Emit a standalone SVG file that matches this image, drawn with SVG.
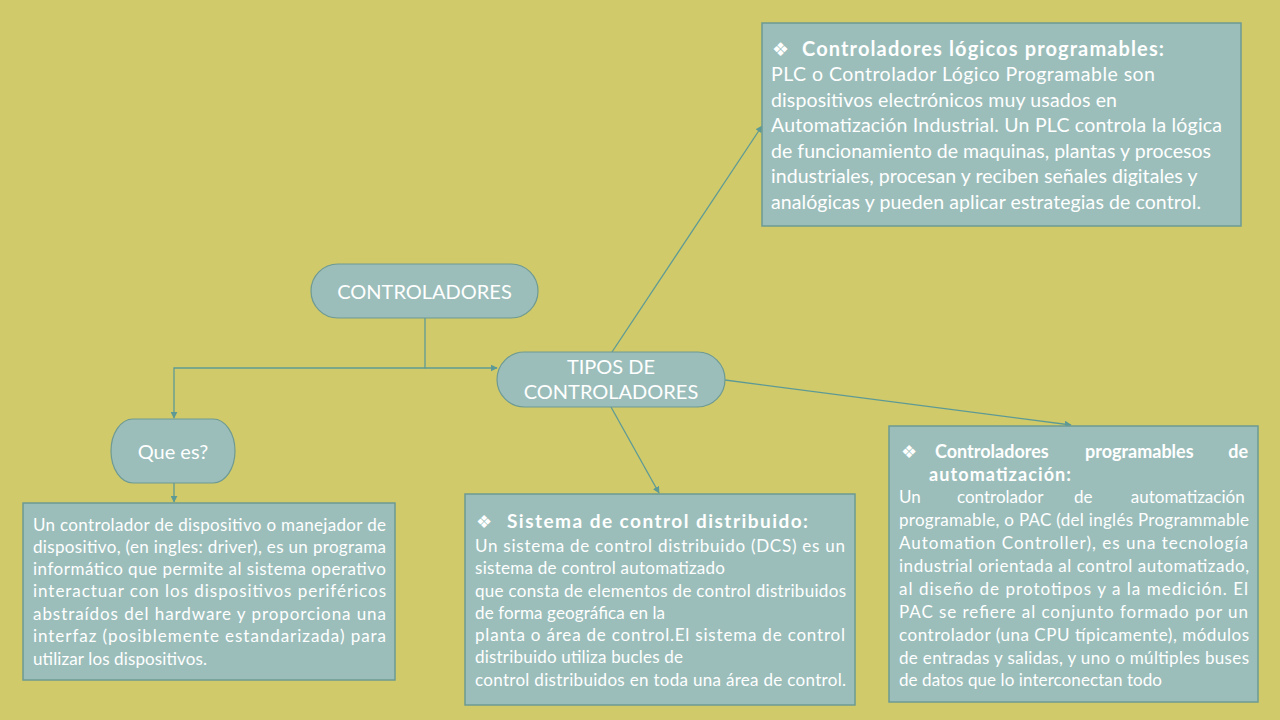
<svg xmlns="http://www.w3.org/2000/svg" width="1280" height="720" viewBox="0 0 1280 720">
<style>
.box{fill:#9BBEBB;stroke:#6E9A93;stroke-width:1.5}
.pill{fill:#9BBEBB;stroke:#6E9A93;stroke-width:1.2}
.t{font-family:Lato,"Open Sans","Liberation Sans",sans-serif;fill:#FFFFFF}
.b{font-weight:bold}
.bul{font-family:"DejaVu Sans",sans-serif;fill:#FFFFFF}
.c{fill:none;stroke:#5E9A95;stroke-width:1.3}
</style>
<defs>
<marker id="arr" viewBox="0 0 10 10" refX="9" refY="5" markerWidth="7" markerHeight="7" markerUnits="userSpaceOnUse" orient="auto">
<path d="M0,0 L10,5 L0,10 z" fill="#5E9A95"/>
</marker>
</defs>
<rect width="1280" height="720" fill="#D0CA6A"/>

<g id="connectors">
<path class="c" d="M425,318 V368 H174 V418" marker-end="url(#arr)"/>
<path class="c" d="M425,368 H497" marker-end="url(#arr)"/>
<path class="c" d="M174,483 V502" marker-end="url(#arr)"/>
<path class="c" d="M612,352 L762,126" marker-end="url(#arr)"/>
<path class="c" d="M611,407 L659,493" marker-end="url(#arr)"/>
<path class="c" d="M725,380 L1071,425" marker-end="url(#arr)"/>
</g>

<g id="controladores">
<rect class="pill" x="311" y="264" width="227" height="54" rx="27" ry="27"/>
<text class="t" x="424.5" y="299" font-size="20" text-anchor="middle">CONTROLADORES</text>
</g>

<g id="tipos">
<rect class="pill" x="497" y="352" width="228" height="55" rx="27.5" ry="27.5"/>
<text class="t" x="611" y="374" font-size="20" text-anchor="middle">TIPOS DE</text>
<text class="t" x="611" y="399" font-size="20" text-anchor="middle">CONTROLADORES</text>
</g>

<g id="quees">
<rect class="pill" x="111" y="419" width="124" height="64" rx="22" ry="32"/>
<text class="t" x="173" y="459" font-size="20" text-anchor="middle">Que es?</text>
</g>

<g id="driver">
<rect class="box" x="23" y="503" width="372" height="177"/>
<text class="t" font-size="17">
<tspan x="33" y="531" textLength="353" lengthAdjust="spacing">Un controlador de dispositivo o manejador de</tspan>
<tspan x="33" y="553" textLength="353" lengthAdjust="spacing">dispositivo, (en ingles: driver), es un programa</tspan>
<tspan x="33" y="575" textLength="353" lengthAdjust="spacing">informático que permite al sistema operativo</tspan>
<tspan x="33" y="597" textLength="353" lengthAdjust="spacing">interactuar con los dispositivos periféricos</tspan>
<tspan x="33" y="620" textLength="353" lengthAdjust="spacing">abstraídos del hardware y proporciona una</tspan>
<tspan x="33" y="642" textLength="353" lengthAdjust="spacing">interfaz (posiblemente estandarizada) para</tspan>
<tspan x="33" y="665" textLength="174" lengthAdjust="spacing">utilizar los dispositivos.</tspan>
</text>
</g>

<g id="plc">
<rect class="box" x="762" y="23" width="479" height="203"/>
<text class="bul" x="772" y="56" font-size="19">❖</text>
<text class="t b" x="802" y="56" font-size="20" textLength="362" lengthAdjust="spacing">Controladores lógicos programables:</text>
<text class="t" font-size="19.5">
<tspan x="771" y="81" textLength="384" lengthAdjust="spacing">PLC o Controlador Lógico Programable son</tspan>
<tspan x="771" y="107" textLength="346" lengthAdjust="spacing">dispositivos electrónicos muy usados en</tspan>
<tspan x="771" y="132" textLength="451" lengthAdjust="spacing">Automatización Industrial. Un PLC controla la lógica</tspan>
<tspan x="771" y="158" textLength="440" lengthAdjust="spacing">de funcionamiento de maquinas, plantas y procesos</tspan>
<tspan x="771" y="183" textLength="426" lengthAdjust="spacing">industriales, procesan y reciben señales digitales y</tspan>
<tspan x="771" y="209" textLength="430" lengthAdjust="spacing">analógicas y pueden aplicar estrategias de control.</tspan>
</text>
</g>

<g id="dcs">
<rect class="box" x="465" y="494" width="390" height="211"/>
<text class="bul" x="476" y="528" font-size="18">❖</text>
<text class="t b" x="507" y="528" font-size="19" textLength="301" lengthAdjust="spacing">Sistema de control distribuido:</text>
<text class="t" font-size="17">
<tspan x="475" y="552" textLength="370" lengthAdjust="spacing">Un sistema de control distribuido (DCS) es un</tspan>
<tspan x="475" y="574" textLength="250" lengthAdjust="spacing">sistema de control automatizado</tspan>
<tspan x="475" y="597" textLength="371" lengthAdjust="spacing">que consta de elementos de control distribuidos</tspan>
<tspan x="475" y="619" textLength="190" lengthAdjust="spacing">de forma geográfica en la</tspan>
<tspan x="475" y="641" textLength="370" lengthAdjust="spacing">planta o área de control.El sistema de control</tspan>
<tspan x="475" y="663" textLength="208" lengthAdjust="spacing">distribuido utiliza bucles de</tspan>
<tspan x="475" y="686" textLength="371" lengthAdjust="spacing">control distribuidos en toda una área de control.</tspan>
</text>
</g>

<g id="pac">
<rect class="box" x="889" y="426" width="369" height="276"/>
<text class="bul" x="901" y="458" font-size="18">❖</text>
<text class="t b" x="935" y="458" font-size="18">Controladores</text>
<text class="t b" x="1085" y="458" font-size="18">programables</text>
<text class="t b" x="1248" y="458" font-size="18" text-anchor="end">de</text>
<text class="t b" x="929" y="481" font-size="18" textLength="142" lengthAdjust="spacing">automatización:</text>
<text class="t" font-size="17">
<tspan x="899" y="503">Un</tspan>
<tspan x="957" y="503">controlador</tspan>
<tspan x="1074" y="503">de</tspan>
<tspan x="1249" y="503" text-anchor="end">automatización</tspan>
<tspan x="899" y="526" textLength="350" lengthAdjust="spacing">programable, o PAC (del inglés Programmable</tspan>
<tspan x="899" y="549" textLength="349" lengthAdjust="spacing">Automation Controller), es una tecnología</tspan>
<tspan x="899" y="572" textLength="350" lengthAdjust="spacing">industrial orientada al control automatizado,</tspan>
<tspan x="899" y="595" textLength="349" lengthAdjust="spacing">al diseño de prototipos y a la medición. El</tspan>
<tspan x="899" y="618" textLength="349" lengthAdjust="spacing">PAC se refiere al conjunto formado por un</tspan>
<tspan x="899" y="641" textLength="350" lengthAdjust="spacing">controlador (una CPU típicamente), módulos</tspan>
<tspan x="899" y="664" textLength="350" lengthAdjust="spacing">de entradas y salidas, y uno o múltiples buses</tspan>
<tspan x="899" y="686" textLength="263" lengthAdjust="spacing">de datos que lo interconectan todo</tspan>
</text>
</g>
</svg>
